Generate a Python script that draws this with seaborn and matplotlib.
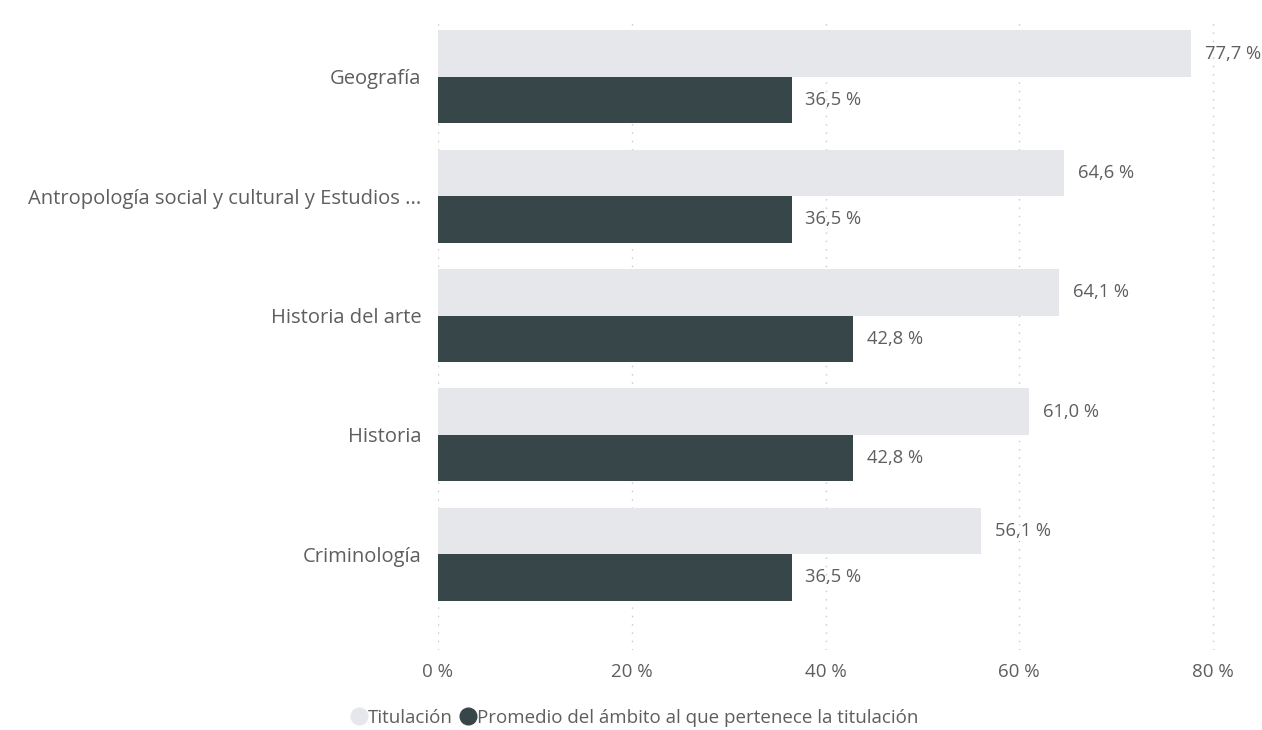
import matplotlib
matplotlib.use("Agg")
import matplotlib.pyplot as plt
from matplotlib.lines import Line2D
import seaborn as sns
import pandas as pd

categories = ["Geografía", "Antropología social y cultural y Estudios ...",
              "Historia del arte", "Historia", "Criminología"]
titulacion = [77.7, 64.6, 64.1, 61.0, 56.1]
promedio = [36.5, 36.5, 42.8, 42.8, 36.5]
series = ["Titulación", "Promedio del ámbito al que pertenece la titulación"]
xticks = [0, 20, 40, 60, 80]

df = pd.DataFrame({
    "cat": categories * 2,
    "val": titulacion + promedio,
    "serie": [series[0]] * len(categories) + [series[1]] * len(categories),
})

sns.set_theme(style="white")
plt.rcParams['font.family'] = ['Open Sans', 'DejaVu Sans']
TXT = "#605E5C"
colors = ["#E6E7EB", "#374649"]

fig = plt.figure(figsize=(12.62, 7.30), dpi=100)
ax = fig.add_axes([438 / 1262, 1 - 649.5 / 730, (1232.4 - 438) / 1262, (649.5 - 17.3) / 730])

sns.barplot(data=df, y="cat", x="val", hue="serie", orient="h", palette=colors,
            width=0.78, ax=ax, legend=False, saturation=1, zorder=2, linewidth=0)

for cont in ax.containers:
    ax.bar_label(cont, labels=[f"{v:.1f} %".replace(".", ",") for v in cont.datavalues],
                 padding=10, color=TXT, fontsize=13.2)

ax.set_xlim(0, 82)
ax.set_ylim(4.8, -0.5)
ax.set_xticks(xticks)
ax.set_xticklabels([f"{t} %" for t in xticks])
ax.tick_params(axis="both", length=0, colors=TXT)
ax.tick_params(axis="y", pad=12, labelsize=14.5)
ax.tick_params(axis="x", pad=10, labelsize=13.5)
ax.set_xlabel("")
ax.set_ylabel("")
ax.grid(axis="x", color="#C8C8C8", linestyle=(0, (1, 5)), linewidth=1, zorder=0)
ax.set_axisbelow(True)
for s in ax.spines.values():
    s.set_visible(False)

handles = [Line2D([0], [0], marker="o", linestyle="", markersize=12,
                  markerfacecolor=c, markeredgecolor=c) for c in colors]
fig.legend(handles, series, loc="center", bbox_to_anchor=(634 / 1262, 1 - 718 / 730),
           ncol=2, frameon=False, fontsize=13.5, labelcolor=TXT,
           handletextpad=0.0, columnspacing=0.3, handlelength=1.0)

fig.savefig("out.png", dpi=100)
